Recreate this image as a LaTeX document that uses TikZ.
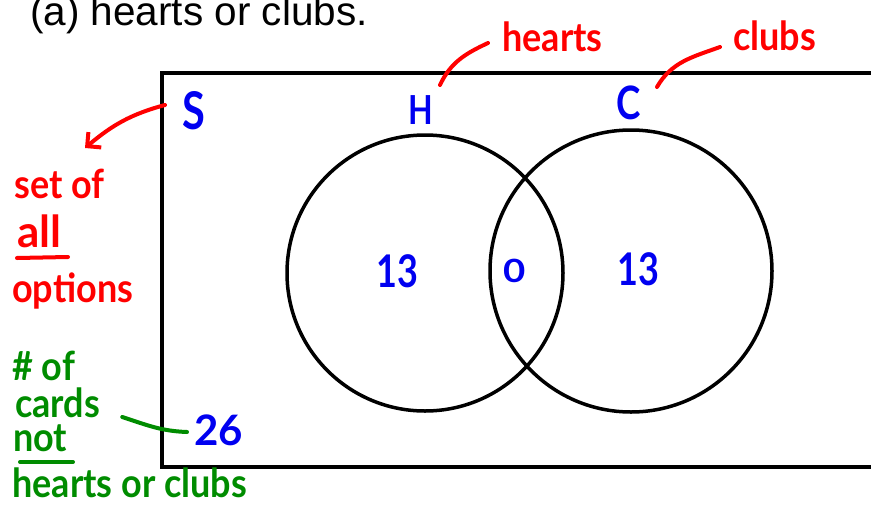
\documentclass[tikz,border=0pt]{standalone}
\usepackage{fontspec}
\setmainfont{Liberation Sans}
\newfontfamily\hand[FakeStretch=0.8]{Lato}
\newfontfamily\handann[FakeStretch=0.9]{Lato}
\newfontfamily\handwide{Lato}
\usetikzlibrary{arrows.meta,calc}
\definecolor{penred}{RGB}{255,0,0}
\definecolor{penblue}{RGB}{0,0,240}
\definecolor{pengreen}{RGB}{0,140,0}
\begin{document}
\begin{tikzpicture}[x=1pt,y=-1pt,
  frame/.style={line width=3.5pt},
  vcircle/.style={line width=3.5pt},
  handtxt/.style={inner sep=0pt,anchor=base west,font=\hand\bfseries\fontsize{#1}{#1}\selectfont},
  bluetxt/.style={handtxt=#1,text=penblue},
  annot/.style={inner sep=0pt,anchor=base west,font=\handann\bfseries\fontsize{40}{40}\selectfont,text height=27pt,text depth=1pt},
  redtxt/.style={annot,text=penred},
  greentxt/.style={annot,text=pengreen},
  redpen/.style={draw=penred,line width=4pt,line cap=round},
  greenpen/.style={draw=pengreen,line width=4pt,line cap=round}]
\useasboundingbox (0,0) rectangle (871,504);
\clip (0,0) rectangle (871,504);
% title
\node[anchor=base west,inner sep=0pt,font=\fontsize{40.5}{40.5}\selectfont] (title) at (30,25) {(a) hearts or clubs.};
% universal set frame
\draw[frame] (162,73) rectangle (900,467);
% circles
\draw[vcircle] (425,273) circle[radius=138pt];
\draw[vcircle] (631,271) circle[radius=141pt];
% blue labels
\node[bluetxt=52] (S) at (182,129) {S};
\node[bluetxt=40] (H) at (408,124) {H};
\node[bluetxt=46] (C) at (616,119) {C};
\node[bluetxt=45] (n13a) at (376,287) {13};
\node[bluetxt=32] (n0) at (503,282) {\scalebox{1.5}[1]{0}};
\node[bluetxt=45] (n13b) at (617,285) {13};
\node[bluetxt=42,font=\handwide\bfseries\fontsize{42}{42}\selectfont] (n26) at (194,445) {26};
% red annotations
\node[redtxt] (hearts) at (502,51) {hearts};
\node[redtxt] (clubs) at (733,50) {clubs};
\node[redtxt] (setof) at (14,198) {set of};
\node[redtxt,font=\handwide\bfseries\fontsize{44}{44}\selectfont] (all) at (17,247) {all};
\node[redtxt] (options) at (12,302) {options};
\draw[redpen] ($(all.base west)+(0,11)$) -- ($(all.base west)+(51,10)$);
\draw[redpen] ($(hearts.base west)+(-14,-8)$) to[out=205,in=65] ($(H.base west)+(32,-39)$);
\draw[redpen] ($(clubs.base west)+(-13,-3)$) to[out=200,in=60] ($(C.base west)+(41,-32)$);
\draw[redpen,-{Straight Barb[length=10pt,width=20pt]}] ($(S.base west)+(-17,-24)$) to[out=195,in=40] ($(setof.base west)+(71,-50)$);
% green annotations
\node[greentxt] (numof) at (12,380) {\# of};
\node[greentxt] (cards) at (15,417) {cards};
\node[greentxt] (not) at (13,451) {not};
\node[greentxt] (hoc) at (12,497) {hearts or clubs};
\draw[greenpen] ($(not.base west)+(7,11)$) -- ($(not.base west)+(60,11)$);
\draw[greenpen] ($(cards.base east)+(22,0)$) to[out=-18,in=178] ($(n26.base west)+(-7,-13)$);
\end{tikzpicture}
\end{document}
